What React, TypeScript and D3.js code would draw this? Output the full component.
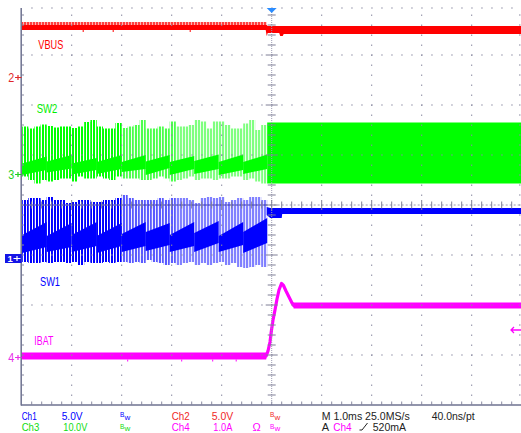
import React from "react";
import * as d3 from "d3";

// ---------- data (time in ms, trigger at 0; 1.0 ms/div) ----------
const TIME_DOMAIN = [-5, 5];

// switching burst cycle boundaries (ms), shared by SW1 and SW2
const CYCLE_T = [-4.99, -4.5, -4.0, -3.5, -3.0, -2.52, -2.04, -1.55, -1.06, -0.57, -0.09];

// SW2 (Ch3, volts) pulse envelope per quarter-cycle
const SW2_PULSE_HI = [
  [9.5, 9.1, 9.5, 9.9],
  [9.6, 9.3, 9.5, 9.5],
  [9.2, 9.5, 10.4, 10.8],
  [9.5, 9.1, 9.1, 10.2],
  [9.2, 9.5, 9.8, 10.8],
  [9.1, 9.1, 9.5, 9.1],
  [10.5, 9.5, 9.5, 9.8],
  [10.8, 10.5, 9.1, 10.5],
  [10.5, 9.8, 9.1, 9.1],
  [10.1, 10.8, 8.8, 9.8],
];
const SW2_PULSE_LO = [
  [-0.5, -1.2, -1.9, -1.2],
  [-1.5, -1.2, -0.9, -0.9],
  [-1.5, -0.5, -0.9, -0.9],
  [-0.5, -0.9, -1.2, -0.5],
  [-0.9, -0.9, -0.9, -1.2],
  [-1.2, -0.9, -0.5, -0.9],
  [-1.5, -1.2, -0.9, -0.5],
  [-1.2, -0.9, -0.9, -1.2],
  [-0.9, -0.9, -0.5, -0.5],
  [-1.2, -0.9, -1.5, -1.9],
];
// dense band per cycle: [startLo, startHi, endLo, endHi]
const SW2_BAND = [
  [-0.2, 2.1, 0.8, 3.5],
  [0.3, 2.5, 1.1, 3.8],
  [-0.1, 2.1, 0.8, 3.2],
  [0.0, 2.4, 1.0, 3.8],
  [0.4, 2.4, 1.0, 3.8],
  [-0.2, 2.5, 1.2, 3.8],
  [-0.2, 2.4, 1.0, 3.6],
  [0.0, 2.6, 1.0, 3.9],
  [-0.2, 2.4, 0.8, 3.9],
  [0.0, 2.4, 1.0, 3.9],
];
const SW2_AFTER_T = [-0.09, 5];
const SW2_AFTER_HI = [10.3, 10.3];
const SW2_AFTER_LO = [-1.9, -1.9];

// SW1 (Ch1, volts)
const SW1_PULSE_HI = [
  [5.8, 6.0, 6.0, 5.8],
  [6.1, 5.8, 5.8, 5.5],
  [5.6, 5.8, 5.8, 5.6],
  [5.6, 5.8, 5.8, 6.0],
  [6.3, 6.0, 5.8, 5.8],
  [5.8, 5.8, 6.0, 5.8],
  [6.0, 6.0, 6.0, 5.8],
  [5.5, 6.0, 6.1, 6.0],
  [6.1, 5.6, 5.8, 6.0],
  [5.8, 6.1, 6.1, 5.8],
];
const SW1_PULSE_LO = [
  [-0.4, -0.5, -0.5, -0.4],
  [-0.5, -0.4, -0.4, -0.5],
  [-0.4, -0.7, -0.4, -0.5],
  [-0.5, -0.4, -0.5, -0.4],
  [-0.4, -0.5, -0.4, -0.5],
  [-0.2, -0.4, -0.5, -0.7],
  [-0.5, -0.7, -0.5, -0.4],
  [-0.7, -0.5, -0.7, -0.5],
  [-0.4, -0.7, -0.5, -0.9],
  [-1.0, -0.9, -0.7, -0.9],
];
const SW1_BAND = [
  [0.5, 2.3, 1.1, 3.6],
  [0.6, 2.2, 1.1, 3.5],
  [0.6, 2.3, 1.2, 3.6],
  [0.5, 2.2, 1.2, 3.5],
  [0.6, 2.4, 1.2, 3.6],
  [0.7, 2.6, 1.3, 3.5],
  [0.6, 2.3, 1.2, 3.6],
  [0.6, 2.5, 1.5, 3.7],
  [0.6, 2.2, 1.3, 3.6],
  [0.5, 2.6, 1.5, 4.0],
];
const SW1_DWELL_LEVEL = 5.3;
const SW1_AFTER_T = [-0.1, -0.03, 0.2, 0.21, 5];
const SW1_AFTER_HI = [5.1, 5.0, 5.0, 5.0, 5.0];
const SW1_AFTER_LO = [4.3, 4.0, 4.0, 4.4, 4.4];

// VBUS (Ch2, volts)
const VBUS_T = [-5, -0.12, -0.1, -0.08, 0.15, 0.17, 0.22, 0.24, 5];
const VBUS_HI = [5.2, 5.2, 5.2, 5.1, 5.1, 5.1, 5.1, 5.1, 5.1];
const VBUS_LO = [4.7, 4.7, 4.1, 4.4, 4.4, 4.1, 4.1, 4.3, 4.3];
const VBUS_FUZZ_T = [-5, -0.1];
const VBUS_FUZZ_HI = [5.5, 5.5];
const VBUS_DIP_T = [-3.77, -3.17, -1.63];
const VBUS_DIP_V = [4.5, 4.5, 4.5];

// IBAT (Ch4, amps)
const IBAT_T = [-5, -0.11, -0.074, -0.034, -0.004, 0.026, 0.066, 0.106, 0.146, 0.196, 0.236, 0.286, 0.346, 0.406, 0.44, 0.46, 5];
const IBAT_LO = [-0.07, -0.07, 0.1, 0.28, 0.52, 0.72, 0.92, 1.14, 1.32, 1.45, 1.41, 1.3, 1.18, 1.06, 0.95, 0.95, 0.95];
const IBAT_HI = [0.07, 0.07, 0.1, 0.28, 0.52, 0.72, 0.92, 1.14, 1.32, 1.45, 1.41, 1.3, 1.18, 1.06, 1.07, 1.07, 1.07];
const IBAT_DIP_T = [-2.88, -1.8, -1.18, -0.71];
const IBAT_DIP_A = [-0.11, -0.11, -0.11, -0.11];
const TRIGGER_LEVEL_A = 0.52;

// labels
const TRACE_LABELS = ["VBUS", "SW2", "SW1", "IBAT"];
const ROW1 = ["Ch1", "5.0V", "Ch2", "5.0V", "M 1.0ms 25.0MS/s", "40.0ns/pt"];
const ROW2 = ["Ch3", "10.0V", "Ch4", "1.0A", "\u03A9", "A", "Ch4", "520mA"];

// ---------- drawing ----------
const FONT = "'Liberation Sans', Arial, Helvetica, sans-serif";
const BLUE = "#0000ff";
const RED = "#ff0000";
const GREEN = "#00ff00";
const MAG = "#ff00ff";
const GRID = "#8a8aa2";

const PATTERNS: [string, string, string][] = [
  ["g-bright", "#00ff00", "#ffffff"],
  ["g-mid", "#4cff4c", "#f2fff2"],
  ["g-light", "#80ff80", "#eaffea"],
  ["b-bright", "#0000ff", "#ffffff"],
  ["b-mid", "#5a5aff", "#f0f0ff"],
  ["b-light", "#8080ff", "#e6e6ff"],
  ["r-fuzz", "#ff4040", "#ffb4b4"],
];

export default function App() {
  const x = d3.scaleLinear().domain(TIME_DOMAIN).range([21.7, 521.7]);
  const chY = (zero: number, perDiv: number) =>
    d3.scaleLinear().domain([0, perDiv]).range([zero, zero - 50]);
  const y1 = chY(258, 5);
  const y2 = chY(77, 5);
  const y3 = chY(174, 10);
  const y4 = chY(356, 1);

  const shadeOf = (t: number) => (t < -3 ? "bright" : t < -2 ? "mid" : "light");

  const pulses = (hi: number[][], lo: number[][], ys: any, key: string) => {
    const out: any[] = [];
    for (let i = 0; i < CYCLE_T.length - 1; i++) {
      const t0 = CYCLE_T[i];
      const t1 = CYCLE_T[i + 1];
      for (let q = 0; q < 4; q++) {
        const a = t0 + ((t1 - t0) * q) / 4;
        const b = t0 + ((t1 - t0) * (q + 1)) / 4;
        out.push(
          <rect
            key={`${key}${i}-${q}`}
            x={x(a)}
            width={x(b) - x(a)}
            y={ys(hi[i][q])}
            height={ys(lo[i][q]) - ys(hi[i][q])}
            fill={`url(#${key}-${shadeOf(a)})`}
          />
        );
      }
    }
    return out;
  };

  const bandArea = (ys: any) =>
    d3
      .area<[number, number, number]>()
      .x((d) => x(d[0]))
      .y0((d) => ys(d[1]))
      .y1((d) => ys(d[2]));

  const denseBands = (bands: number[][], ys: any, color: string, key: string) =>
    bands.map((b, i) => (
      <path
        key={`${key}${i}`}
        d={bandArea(ys)([
          [CYCLE_T[i], b[0], b[1]],
          [CYCLE_T[i + 1], b[2], b[3]],
        ]) as string}
        fill={color}
      />
    ));

  const zip = (t: number[], lo: number[], hi: number[]) =>
    t.map((v, i) => [v, lo[i], hi[i]] as [number, number, number]);

  const ibatLine = d3
    .line<number>()
    .x((_, i) => x(IBAT_T[i]))
    .y((_, i) => y4((IBAT_LO[i] + IBAT_HI[i]) / 2));

  // graticule
  const majorY = [55, 105, 155, 255, 305, 355];
  const majorX = [-4, -3, -2, -1, 1, 2, 3, 4].map((t) => x(t));
  const hDots = d3.range(1, 50).map((i) => 21.7 + 10 * i);
  const vDots = d3.range(1, 40).map((j) => 5 + 10 * j);
  const cx = x(0);
  const cy = 205;

  const Bw = ({ px, py, color }: { px: number; py: number; color: string }) => (
    <g fill={color}>
      <text x={px} y={py - 2.5} fontSize={6.5}>B</text>
      <text x={px + 4.6} y={py} fontSize={8}>w</text>
    </g>
  );

  const marker = (label: string, yy: number, color: string) => (
    <g>
      <text x={8.2} y={yy + 4.5} fontSize={12} fill={color} textLength={6} lengthAdjust="spacingAndGlyphs">
        {label}
      </text>
      <path d={`M15,${yy + 0.5} H21.5 M18,${yy - 2} V${yy + 3}`} stroke={color} strokeWidth={1.2} fill="none" />
    </g>
  );

  const R1 = 419.5;
  const R2 = 431;

  return (
    <svg
      width={521}
      height={433}
      style={{ position: "absolute", left: 0, top: 0, background: "#fff" }}
      fontFamily={FONT}
    >
      <defs>
        {PATTERNS.map(([id, fg, bg]) => (
          <pattern key={id} id={id} patternUnits="userSpaceOnUse" x={0} y={0} width={3} height={4}>
            <rect width={3} height={4} fill={bg} />
            <rect width={2} height={4} fill={fg} />
          </pattern>
        ))}
      </defs>
      <rect width={521} height={433} fill="#fff" />

      {/* SW2 */}
      {pulses(SW2_PULSE_HI, SW2_PULSE_LO, y3, "g")}
      {denseBands(SW2_BAND, y3, GREEN, "gb")}
      <path d={bandArea(y3)(zip(SW2_AFTER_T, SW2_AFTER_LO, SW2_AFTER_HI)) as string} fill={GREEN} />

      {/* SW1 */}
      {pulses(SW1_PULSE_HI, SW1_PULSE_LO, y1, "b")}
      <line
        x1={x(CYCLE_T[0])}
        x2={x(CYCLE_T[CYCLE_T.length - 1])}
        y1={y1(SW1_DWELL_LEVEL)}
        y2={y1(SW1_DWELL_LEVEL)}
        stroke="#2a2ac8"
        strokeWidth={1.2}
      />
      {denseBands(SW1_BAND, y1, BLUE, "bb")}
      <path d={bandArea(y1)(zip(SW1_AFTER_T, SW1_AFTER_LO, SW1_AFTER_HI)) as string} fill={BLUE} />

      {/* VBUS */}
      <path
        d={bandArea(y2)(zip(VBUS_FUZZ_T, [VBUS_HI[0], VBUS_HI[1]], VBUS_FUZZ_HI)) as string}
        fill="url(#r-fuzz)"
      />
      <path d={bandArea(y2)(zip(VBUS_T, VBUS_LO, VBUS_HI)) as string} fill={RED} />
      {VBUS_DIP_T.map((t, i) => (
        <line key={`vd${i}`} x1={x(t)} x2={x(t)} y1={y2(VBUS_LO[0])} y2={y2(VBUS_DIP_V[i])} stroke={RED} strokeWidth={1} />
      ))}

      {/* IBAT */}
      <path d={bandArea(y4)(zip(IBAT_T, IBAT_LO, IBAT_HI)) as string} fill={MAG} />
      <path d={ibatLine(IBAT_T) as string} fill="none" stroke={MAG} strokeWidth={3.2} strokeLinejoin="round" />
      {IBAT_DIP_T.map((t, i) => (
        <line key={`id${i}`} x1={x(t)} x2={x(t)} y1={y4(IBAT_LO[0])} y2={y4(IBAT_DIP_A[i])} stroke={MAG} strokeWidth={1} />
      ))}

      {/* graticule dots */}
      <g fill={GRID}>
        {majorY.map((gy) =>
          hDots.map((dx) => <rect key={`h${gy}-${dx}`} x={dx - 0.5} y={gy - 0.5} width={1.5} height={1} />)
        )}
        {majorX.map((gx) =>
          vDots.map((dy) => <rect key={`v${gx}-${dy}`} x={gx - 0.5} y={dy - 0.5} width={1} height={1.5} />)
        )}
        {hDots.map((dx) => (
          <rect key={`t${dx}`} x={dx - 0.5} y={7.5} width={1.5} height={1} />
        ))}
        {vDots.map((dy) => (
          <rect key={`r${dy}`} x={519} y={dy - 0.5} width={1.5} height={1} />
        ))}
        {vDots.map((dy) => (
          <rect key={`l${dy}`} x={22} y={dy - 0.5} width={2} height={1} />
        ))}
        {hDots.map((dx) => (
          <rect key={`b${dx}`} x={dx - 0.5} y={401.5} width={1} height={3} />
        ))}
      </g>

      {/* center lines */}
      <line x1={cx} x2={cx} y1={8} y2={405} stroke="#9c9cb2" strokeWidth={1} strokeDasharray="1 1" />
      <line x1={21.7} x2={521.7} y1={cy} y2={cy} stroke="#9c9cb2" strokeWidth={1} strokeDasharray="2 2" />
      <g stroke="#7e7e96" strokeWidth={1}>
        {vDots.map((dy) => {
          const major = (dy - 5) % 50 === 0;
          return <line key={`cv${dy}`} x1={major ? cx - 6 : cx - 4} x2={major ? cx + 6 : cx + 4} y1={dy} y2={dy} />;
        })}
        {hDots.map((dx) => {
          const major = Math.abs((dx - 21.7) % 50) < 0.01;
          return <line key={`ch${dx}`} x1={dx} x2={dx} y1={major ? cy - 5 : cy - 3.5} y2={major ? cy + 5 : cy + 3.5} />;
        })}
      </g>

      {/* borders */}
      <line x1={21.2} x2={21.2} y1={8} y2={405.5} stroke="#6e7290" strokeWidth={1.5} />
      <line x1={21} x2={521} y1={405} y2={405} stroke="#6e7290" strokeWidth={1.5} />

      {/* trigger position marker */}
      <path d={`M${cx - 5},8 L${cx + 5},8 L${cx},13 Z`} fill="#2a8cff" />
      {/* trigger level arrow */}
      <path
        d={`M511,${y4(TRIGGER_LEVEL_A)} H521 M514,${y4(TRIGGER_LEVEL_A) - 3} L511,${y4(TRIGGER_LEVEL_A)} L514,${y4(TRIGGER_LEVEL_A) + 3}`}
        stroke={MAG}
        strokeWidth={1.3}
        fill="none"
      />

      {/* channel ground markers */}
      {marker("2", y2(0), "#e02828")}
      {marker("3", y3(0), "#1ed01e")}
      {marker("4", y4(0) + 1, "#e830e8")}
      <g>
        <rect x={5} y={254} width={16.7} height={9} fill="#1414e6" />
        <text x={7.6} y={262} fontSize={9.5} fill="#fff" fontWeight="bold">1</text>
        <path d="M13.5,258.5 H20.5 M17,256 V261" stroke="#fff" strokeWidth={1.2} />
      </g>

      {/* trace labels */}
      <text x={38.3} y={49} fontSize={12} fill={RED} textLength={25} lengthAdjust="spacingAndGlyphs">{TRACE_LABELS[0]}</text>
      <text x={36.7} y={113} fontSize={12} fill="#00ee00" textLength={20.6} lengthAdjust="spacingAndGlyphs">{TRACE_LABELS[1]}</text>
      <text x={40} y={286} fontSize={12} fill={BLUE} textLength={20} lengthAdjust="spacingAndGlyphs">{TRACE_LABELS[2]}</text>
      <text x={34.3} y={345} fontSize={12} fill={MAG} textLength={19} lengthAdjust="spacingAndGlyphs">{TRACE_LABELS[3]}</text>

      {/* readout row 1 */}
      <g fontSize={11}>
        <text x={21.7} y={R1} fill={BLUE} textLength={15} lengthAdjust="spacingAndGlyphs">{ROW1[0]}</text>
        <text x={61.7} y={R1} fill={BLUE} textLength={21} lengthAdjust="spacingAndGlyphs">{ROW1[1]}</text>
        <Bw px={120} py={R1} color={BLUE} />
        <text x={171.7} y={R1} fill="#f02828" textLength={18} lengthAdjust="spacingAndGlyphs">{ROW1[2]}</text>
        <text x={211.7} y={R1} fill="#f02828" textLength={21.6} lengthAdjust="spacingAndGlyphs">{ROW1[3]}</text>
        <Bw px={270} py={R1} color="#f02828" />
        <text x={321.7} y={R1} fill="#222" textLength={88} lengthAdjust="spacingAndGlyphs">{ROW1[4]}</text>
        <text x={431.7} y={R1} fill="#222" textLength={43} lengthAdjust="spacingAndGlyphs">{ROW1[5]}</text>
      </g>
      {/* readout row 2 */}
      <g fontSize={11}>
        <text x={21.7} y={R2} fill="#10dc10" textLength={17.6} lengthAdjust="spacingAndGlyphs">{ROW2[0]}</text>
        <text x={63.3} y={R2} fill="#10dc10" textLength={24} lengthAdjust="spacingAndGlyphs">{ROW2[1]}</text>
        <Bw px={120} py={R2} color="#10dc10" />
        <text x={171.7} y={R2} fill={MAG} textLength={18} lengthAdjust="spacingAndGlyphs">{ROW2[2]}</text>
        <text x={213.3} y={R2} fill={MAG} textLength={19} lengthAdjust="spacingAndGlyphs">{ROW2[3]}</text>
        <text x={252.5} y={R2} fill={MAG}>{ROW2[4]}</text>
        <Bw px={270} py={R2} color={MAG} />
        <text x={321.7} y={R2} fill="#222">{ROW2[5]}</text>
        <text x={333.3} y={R2} fill={MAG} textLength={18.4} lengthAdjust="spacingAndGlyphs">{ROW2[6]}</text>
        <path d={`M359.5,${R2 - 1} H362 L367.5,${R2 - 8}`} stroke="#222" strokeWidth={1} fill="none" />
        <text x={372.7} y={R2} fill="#222" textLength={33.3} lengthAdjust="spacingAndGlyphs">{ROW2[7]}</text>
      </g>
    </svg>
  );
}
